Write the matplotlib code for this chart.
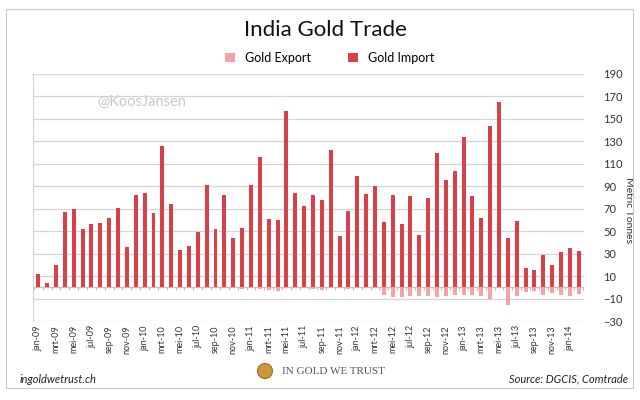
import numpy as np
import matplotlib.pyplot as plt
from matplotlib.patches import Rectangle, Ellipse

plt.rcParams['font.family'] = ['Lato', 'DejaVu Sans']

months = ['jan', 'feb', 'mrt', 'apr', 'mei', 'jun', 'jul', 'aug', 'sep', 'okt', 'nov', 'dec']
years = ['09', '10', '11', '12', '13', '14']

# metric tonnes, jan-09 .. feb-14
gold_import = [12, 4, 20, 67, 70, 52, 56, 57, 62, 71, 36, 82,
               84, 66, 126, 74, 33, 37, 49, 91, 52, 82, 44, 53,
               91, 116, 61, 60, 157, 84, 72, 82, 78, 122, 46, 68,
               99, 83, 90, 58, 82, 56, 81, 47, 80, 120, 96, 104,
               134, 81, 62, 144, 165, 44, 59, 17, 15, 29, 20, 31.5,
               35, 32]
gold_export = [-1, -0.5, -1, -1, -1, -1, -1, -1, -1, -1, -1, -1,
               -1, -1, -1, -1, -1, -1, -1, -1, -1, -1, -1, -1.5,
               -1, -1.5, -2, -3, -1, -1, -1, -1.5, -2.5, -1, -1, -1.5,
               -1, -1, -1, -7, -8.5, -9, -7.5, -8, -7.5, -8.5, -8, -6.5,
               -6.5, -7, -8, -10, -1, -16, -7.5, -4, -3.5, -6.5, -5, -7,
               -7.5, -6]

labels = [m + '-' + y for y in years for m in months][:len(gold_import)]
x = np.arange(len(gold_import))

imp_col = '#D8404A'
exp_col = '#F4A3AA'

fig = plt.figure(figsize=(6.4, 4), dpi=100)
ax = fig.add_axes([0.0516, 0.1975, 0.8609, 0.6175])

b_exp = ax.bar(x, gold_export, width=0.45, color=exp_col, zorder=3, label='Gold Export')
b_imp = ax.bar(x, gold_import, width=0.45, color=imp_col, zorder=3, label='Gold Import')

ax.set_xlim(-0.6, len(x) - 0.4)
ax.set_ylim(-30, 190)
ax.set_yticks(np.arange(-30, 191, 20))
ax.yaxis.tick_right()
ax.yaxis.set_label_position('right')
ax.tick_params(axis='y', length=0, pad=14, labelsize=8, labelcolor='#333333')
ax.grid(axis='y', color='#D4D4D4', lw=0.9, zorder=0)
ax.set_ylabel('Metric Tonnes', rotation=270, fontsize=7.5, color='#333333', va='center')
ax.yaxis.set_label_coords(1.08, 0.45)

ax.set_xticks(x[::2])
ax.set_xticklabels(labels[::2], rotation=90, fontsize=6.5, color='#333333')
ax.tick_params(axis='x', length=0, pad=3)

for s in ['top', 'right', 'bottom']:
    ax.spines[s].set_visible(False)
ax.spines['left'].set_color('#D0D0D0')

# zero line with category tick marks
ax.axhline(0, color='#BFBFBF', lw=0.9, zorder=2)
ax.vlines(np.arange(len(x) + 1) - 0.5, -2, 0, color='#BFBFBF', lw=0.8, zorder=2)

fig.text(0.508, 0.925, 'India Gold Trade', ha='center', va='center', fontsize=16, color='#111111')
fig.legend(handles=[b_exp, b_imp], loc='center', bbox_to_anchor=(0.515, 0.855), ncol=2,
           frameon=False, fontsize=9, handlelength=0.8, handleheight=0.8,
           columnspacing=3.0, handletextpad=0.8)

fig.text(0.152, 0.735, '@KoosJansen', fontsize=10.5, color='#C8C8C8')

# frame and footer
fig.patches.append(Rectangle((0.0094, 0.03), 0.98, 0.9475, transform=fig.transFigure,
                             fill=False, edgecolor='#C8C8C8', lw=0.8))
fig.text(0.03, 0.052, 'ingoldwetrust.ch', style='italic', fontsize=8, color='#222222', va='center')
fig.text(0.982, 0.052, 'Source: DGCIS, Comtrade', style='italic', fontsize=8, color='#222222',
         ha='right', va='center')
fig.patches.append(Ellipse((265 / 640, 1 - 371 / 400), 15 / 640, 15 / 400, transform=fig.transFigure,
                           facecolor='#C9983A', edgecolor='#9C6E1E', lw=0.8))
fig.text(0.44, 1 - 371 / 400, 'IN GOLD WE TRUST', family='Liberation Serif', fontsize=8,
         color='#555555', va='center')

fig.savefig('out.png', dpi=100)
